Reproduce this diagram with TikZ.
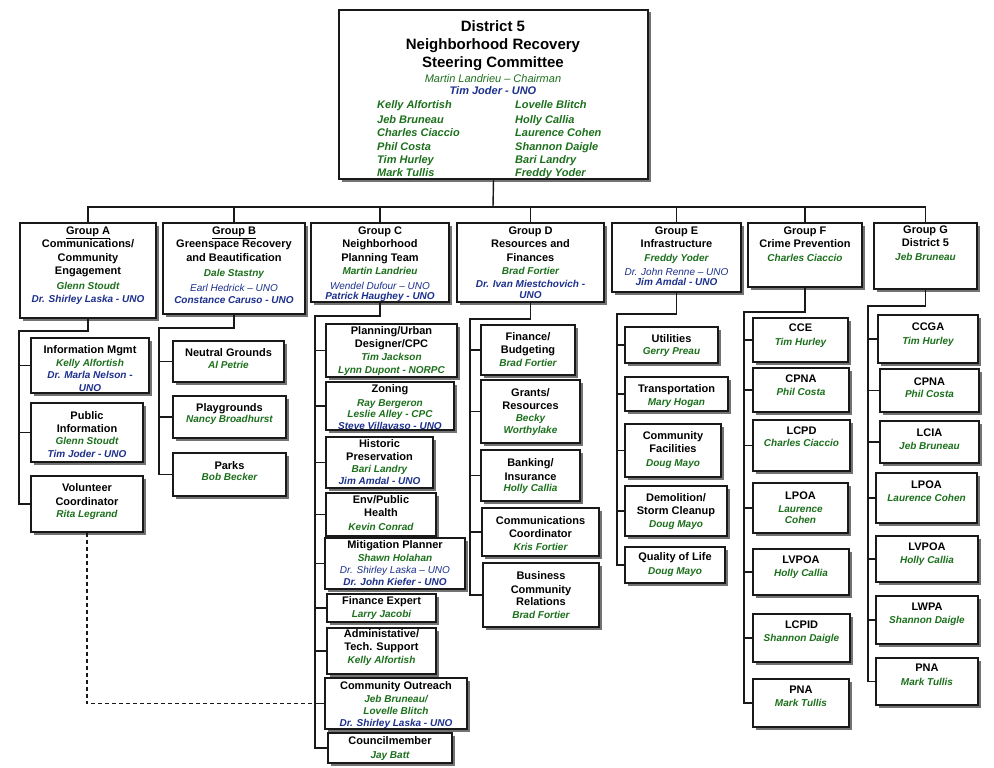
\documentclass[tikz,border=0pt]{standalone}
\usepackage{fontspec}
\setmainfont{Liberation Sans}
\usetikzlibrary{fit,shadows}
\definecolor{dg}{RGB}{28,112,28}
\definecolor{db}{RGB}{28,48,140}
\newcommand\Hd[1]{{\bfseries #1}}
\newcommand\Gn[1]{{\color{dg}\bfseries\itshape\fontsize{10}{12}\selectfont #1}}
\newcommand\Bn[1]{{\color{db}\bfseries\itshape\fontsize{10}{12}\selectfont #1}}
\newcommand\Gi[1]{{\color{dg}\itshape\fontsize{10}{12}\selectfont #1}}
\newcommand\Bi[1]{{\color{db}\itshape\fontsize{10}{12}\selectfont #1}}
\newcommand\bx[7]{%
  \node[box, fit={(#2,#3)(#4,#5)}] (#1) {};
  \node[txt, anchor=north] (#1t) at ([yshift=-#6pt]#1.north) {#7};}
\begin{document}
\begin{tikzpicture}[x=1pt,y=-1pt,
  box/.style={draw=black!90, line width=1.3pt, fill=white, inner sep=0pt,
    drop shadow={shadow xshift=2.5pt,shadow yshift=-2.5pt,fill=black!55,opacity=1}},
  txt/.style={align=center, inner sep=0pt, font=\fontsize{11}{13}\selectfont},
  ln/.style={line width=1.4pt, draw=black!90},
  ttl/.style={inner sep=0pt, anchor=base, font=\bfseries\fontsize{15}{17}\selectfont},
  tnm/.style={inner sep=0pt, anchor=base west, text=dg, font=\bfseries\itshape\fontsize{11}{13}\selectfont}]
\useasboundingbox[fill=white] (0,0) rectangle (994,768);

% ---- top box
\node[box, fit={(339,10)(648,179)}] (top) {};
\node[ttl] (t1) at (493,31.4) {District 5};
\node[ttl] (t2) at (493,49.4) {Neighborhood Recovery};
\node[ttl] (t3) at (493,67.4) {Steering Committee};
\node[inner sep=0pt, anchor=base, text=dg, font=\itshape\fontsize{11}{13}\selectfont] (t4) at (493,82) {Martin Landrieu -- Chairman};
\node[inner sep=0pt, anchor=base, text=db, font=\bfseries\itshape\fontsize{11}{13}\selectfont] (t5) at (493,95) {Tim Joder - UNO};
\node[tnm] (l1) at (377,109) {Kelly Alfortish};
\node[tnm] (l2) at (377,123) {Jeb Bruneau};
\node[tnm] (l3) at (377,136) {Charles Ciaccio};
\node[tnm] (l4) at (377,150) {Phil Costa};
\node[tnm] (l5) at (377,163) {Tim Hurley};
\node[tnm] (l6) at (377,176) {Mark Tullis};
\node[tnm] (r1) at (515,109) {Lovelle Blitch};
\node[tnm] (r2) at (515,123) {Holly Callia};
\node[tnm] (r3) at (515,136) {Laurence Cohen};
\node[tnm] (r4) at (515,150) {Shannon Daigle};
\node[tnm] (r5) at (515,163) {Bari Landry};
\node[tnm] (r6) at (515,176) {Freddy Yoder};

% ---- groups
\bx{GA}{20}{223}{156}{318}{4}{\Hd{\underline{Group A}}\\ \Hd{Communications/}\\[1pt] \Hd{Community}\\ \Hd{Engagement}\\[2pt] \Gn{Glenn Stoudt}\\ \Bn{Dr. Shirley Laska - UNO}}
\bx{GB}{163}{223}{305}{314}{4}{\Hd{\underline{Group B}}\\ \Hd{Greenspace Recovery}\\[1pt] \Hd{and Beautification}\\[2pt] \Gn{Dale Stastny}\\[2pt] \Bi{Earl Hedrick -- UNO}\\[-1pt] \Bn{Constance Caruso - UNO}}
\bx{GC}{311}{223}{449}{302}{4}{\Hd{Group C}\\ \Hd{Neighborhood}\\[1pt] \Hd{Planning Team}\\ \Gn{Martin Landrieu}\\[2pt] \Bi{Wendel Dufour -- UNO}\\[-2.5pt] \Bn{Patrick Haughey - UNO}}
\bx{GD}{457}{223}{604}{302}{4}{\Hd{Group D}\\ \Hd{Resources and}\\[1pt] \Hd{Finances}\\ \Gn{Brad Fortier}\\ \Bn{Dr. Ivan Miestchovich -}\\[-2pt] \Bn{UNO}}
\bx{GE}{612}{223}{741}{292}{4}{\Hd{Group E}\\ \Hd{Infrastructure}\\[1pt] \Gn{Freddy Yoder}\\[1pt] \Bi{Dr. John Renne -- UNO}\\[-3pt] \Bn{Jim Amdal - UNO}}
\bx{GF}{748}{223}{862}{287}{4}{\Hd{Group F}\\ \Hd{Crime Prevention}\\[1pt] \Gn{Charles Ciaccio}}
\bx{GG}{874}{223}{977}{289}{3}{\Hd{Group G}\\ \Hd{District 5}\\[1pt] \Gn{Jeb Bruneau}}

% ---- group A subs
\bx{a1}{31}{338}{149}{393}{8}{\Hd{Information Mgmt}\\[-0.5pt] \Gn{Kelly Alfortish}\\[-0.5pt] \Bn{Dr. Marla Nelson -}\\[-0.5pt] \Bn{UNO}}
\bx{a2}{31}{403}{143}{462}{9}{\Hd{Public}\\[-0.5pt] \Hd{Information}\\[-0.5pt] \Gn{Glenn Stoudt}\\[-0.5pt] \Bn{Tim Joder - UNO}}
\bx{a3}{31}{476}{143}{532}{8}{\Hd{Volunteer}\\[1pt] \Hd{Coordinator}\\[-1pt] \Gn{Rita Legrand}}
% ---- group B subs
\bx{b1}{173}{341}{284}{382}{8}{\Hd{Neutral Grounds}\\[-1pt] \Gn{Al Petrie}}
\bx{b2}{173}{396}{286}{438}{8}{\Hd{Playgrounds}\\[-2pt] \Gn{Nancy Broadhurst}}
\bx{b3}{173}{453}{286}{496}{9}{\Hd{Parks}\\[-2pt] \Gn{Bob Becker}}
% ---- group C subs
\bx{c1}{326}{324}{457}{377}{3}{\Hd{Planning/Urban}\\ \Hd{Designer/CPC}\\ \Gn{Tim Jackson}\\ \Gn{Lynn Dupont - NORPC}}
\bx{c2}{326}{382}{454}{430}{3}{\Hd{Zoning}\\[1pt] \Gn{Ray Bergeron}\\[-2pt] \Gn{Leslie Alley - CPC}\\[-1.5pt] \Bn{Steve Villavaso - UNO}}
\bx{c3}{326}{437}{433}{488}{3}{\Hd{Historic}\\ \Hd{Preservation}\\[-1pt] \Gn{Bari Landry}\\[-1pt] \Bn{Jim Amdal - UNO}}
\bx{c4}{326}{493}{436}{536}{3}{\Hd{Env/Public}\\ \Hd{Health}\\[1pt] \Gn{Kevin Conrad}}
\bx{c5}{325}{538}{465}{589}{3}{\Hd{Mitigation Planner}\\ \Gn{Shawn Holahan}\\[-1pt] \Bi{Dr. Shirley Laska -- UNO}\\[-1.5pt] \Bn{Dr. John Kiefer - UNO}}
\bx{c6}{327}{594}{436}{622}{3}{\Hd{Finance Expert}\\ \Gn{Larry Jacobi}}
\bx{c7}{327}{628}{436}{674}{2}{\Hd{Administative/}\\ \Hd{Tech. Support}\\ \Gn{Kelly Alfortish}}
\bx{c8}{325}{678}{467}{729}{4}{\Hd{Community Outreach}\\ \Gn{Jeb Bruneau/}\\[-1pt] \Gn{Lovelle Blitch}\\[-1pt] \Bn{Dr. Shirley Laska - UNO}}
\bx{c9}{328}{733}{452}{763}{4}{\Hd{Councilmember}\\[1pt] \Gn{Jay Batt}}
% ---- group D subs
\bx{d1}{481}{325}{575}{375}{8}{\Hd{Finance/}\\ \Hd{Budgeting}\\ \Gn{Brad Fortier}}
\bx{d2}{481}{380}{580}{443}{9}{\Hd{Grants/}\\ \Hd{Resources}\\[-1pt] \Gn{Becky}\\[-1pt] \Gn{Worthylake}}
\bx{d3}{481}{450}{580}{501}{9}{\Hd{Banking/}\\[1pt] \Hd{Insurance}\\[-2pt] \Gn{Holly Callia}}
\bx{d4}{482}{508}{599}{556}{9}{\Hd{Communications}\\ \Hd{Coordinator}\\ \Gn{Kris Fortier}}
\bx{d5}{483}{563}{599}{627}{9}{\Hd{Business}\\[1pt] \Hd{Community}\\[-1pt] \Hd{Relations}\\ \Gn{Brad Fortier}}
% ---- group E subs
\bx{e1}{625}{327}{718}{363}{8}{\Hd{Utilities}\\[-1pt] \Gn{Gerry Preau}}
\bx{e2}{625}{377}{728}{411}{8}{\Hd{Transportation}\\ \Gn{Mary Hogan}}
\bx{e3}{625}{424}{721}{477}{8}{\Hd{Community}\\ \Hd{Facilities}\\[1pt] \Gn{Doug Mayo}}
\bx{e4}{625}{486}{727}{536}{8}{\Hd{Demolition/}\\ \Hd{Storm Cleanup}\\ \Gn{Doug Mayo}}
\bx{e5}{625}{547}{725}{583}{6}{\Hd{Quality of Life}\\[1pt] \Gn{Doug Mayo}}
% ---- group F subs
\bx{f1}{753}{318}{848}{362}{6}{\Hd{CCE}\\[1pt] \Gn{Tim Hurley}}
\bx{f2}{753}{368}{849}{412}{7}{\Hd{CPNA}\\ \Gn{Phil Costa}}
\bx{f3}{753}{420}{850}{471}{7}{\Hd{LCPD}\\[-1pt] \Gn{Charles Ciaccio}}
\bx{f4}{753}{483}{848}{533}{9}{\Hd{LPOA}\\ \Gn{Laurence}\\[-2pt] \Gn{Cohen}}
\bx{f5}{753}{549}{849}{595}{7}{\Hd{LVPOA}\\ \Gn{Holly Callia}}
\bx{f6}{753}{614}{850}{662}{7}{\Hd{LCPID}\\ \Gn{Shannon Daigle}}
\bx{f7}{753}{679}{849}{727}{7}{\Hd{PNA}\\ \Gn{Mark Tullis}}
% ---- group G subs
\bx{g1}{878}{315}{978}{363}{8}{\Hd{CCGA}\\[1pt] \Gn{Tim Hurley}}
\bx{g2}{880}{369}{979}{412}{9}{\Hd{CPNA}\\[-1pt] \Gn{Phil Costa}}
\bx{g3}{880}{421}{979}{463}{8}{\Hd{LCIA}\\ \Gn{Jeb Bruneau}}
\bx{g4}{876}{473}{977}{523}{8}{\Hd{LPOA}\\ \Gn{Laurence Cohen}}
\bx{g5}{876}{536}{978}{582}{7}{\Hd{LVPOA}\\ \Gn{Holly Callia}}
\bx{g6}{876}{596}{978}{644}{7}{\Hd{LWPA}\\ \Gn{Shannon Daigle}}
\bx{g7}{876}{658}{978}{705}{6}{\Hd{PNA}\\[1pt] \Gn{Mark Tullis}}

% ---- connectors
\coordinate (bus) at (493,207);
\draw[ln] (top.south) -- (bus);
\draw[ln] (GA.north) -- (GA.north |- bus) -- (GG.north |- bus) -- (GG.north);
\foreach \g in {GB,GC,GD,GE,GF} \draw[ln] (\g.north) -- (\g.north |- bus);

\coordinate (eA) at (19,331);
\draw[ln] (GA.south) |- (eA) -- (eA |- a3.west) -- (a3.west);
\foreach \s in {a1,a2} \draw[ln] (eA |- \s.west) -- (\s.west);

\coordinate (eB) at (159,328);
\draw[ln] (GB.south) |- (eB) -- (eB |- b3.west) -- (b3.west);
\foreach \s in {b1,b2} \draw[ln] (eB |- \s.west) -- (\s.west);

\coordinate (eC) at (315,316);
\draw[ln] (GC.south) |- (eC) -- (eC |- c9.west) -- (c9.west);
\foreach \s in {c1,c2,c3,c4,c5,c6,c7,c8} \draw[ln] (eC |- \s.west) -- (\s.west);

\coordinate (eD) at (470,319);
\draw[ln] (GD.south) |- (eD) -- (eD |- d5.west) -- (d5.west);
\foreach \s in {d1,d2,d3,d4} \draw[ln] (eD |- \s.west) -- (\s.west);

\coordinate (eE) at (617,314);
\draw[ln] (GE.south) |- (eE) -- (eE |- e5.west) -- (e5.west);
\foreach \s in {e1,e2,e3,e4} \draw[ln] (eE |- \s.west) -- (\s.west);

\coordinate (eF) at (744,312);
\draw[ln] (GF.south) |- (eF) -- (eF |- f7.west) -- (f7.west);
\foreach \s in {f1,f2,f3,f4,f5,f6} \draw[ln] (eF |- \s.west) -- (\s.west);

\coordinate (eG) at (868,306);
\draw[ln] (GG.south) |- (eG) -- (eG |- g7.west) -- (g7.west);
\foreach \s in {g1,g2,g3,g4,g5,g6} \draw[ln] (eG |- \s.west) -- (\s.west);

\draw[ln, line width=1.3pt, dash pattern=on 4pt off 3pt] (a3.south) |- (c8.west);
\end{tikzpicture}
\end{document}
